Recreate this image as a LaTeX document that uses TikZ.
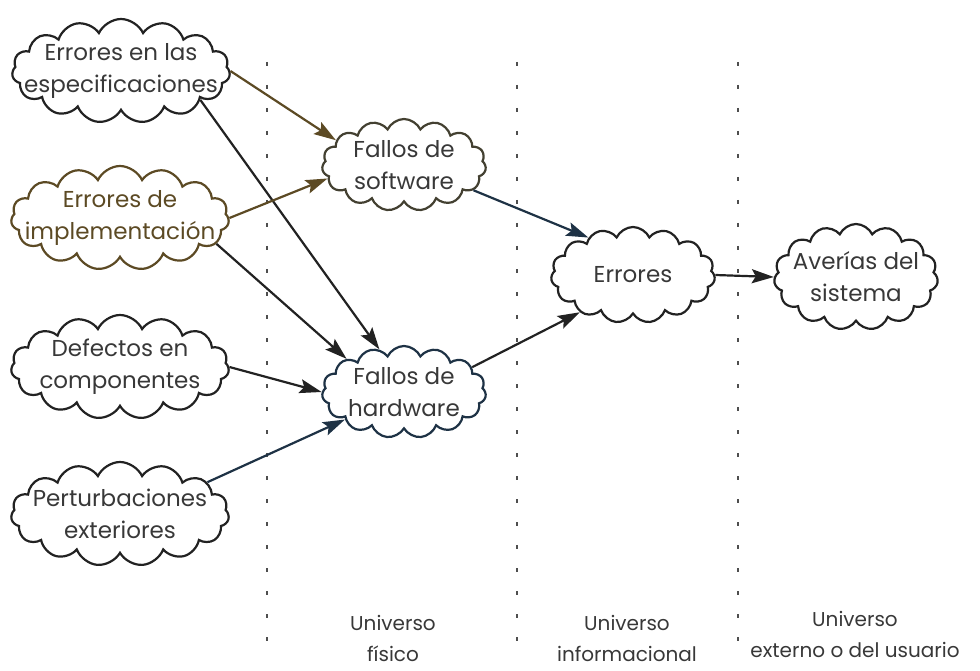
\documentclass[tikz,border=0pt]{standalone}
\usepackage{fontspec}
\setmainfont{Poppins}
\usetikzlibrary{shapes.symbols,arrows.meta}
\definecolor{ink}{HTML}{222222}
\definecolor{brownish}{HTML}{5C4A24}
\definecolor{navy}{HTML}{1E3245}
\tikzset{
  cloudbox/.style={cloud, cloud puffs=15, cloud puff arc=130, cloud ignores aspect,
    draw=ink, line width=2.2pt, minimum width=#1, minimum height=104pt, inner sep=0pt},
  cloudbox/.default=218pt,
  smallcloud/.style={cloudbox=164pt, minimum height=92pt},
  txt/.style={font=\fontsize{23}{32}\selectfont, text=ink!90, align=center},
  causeline/.style={line width=2.2pt, draw=ink, arrows={-Stealth[length=22pt, width=14pt, inset=4pt]}},
  divider/.style={line width=2.4pt, draw=ink!80, dash pattern=on 4pt off 19pt},
  universe/.style={font=\fontsize{20}{31}\selectfont, text=ink!90, align=center}
}
\begin{document}
\begin{tikzpicture}[x=1pt, y=-1pt]
  \useasboundingbox (0,0) rectangle (980,671);
  % dotted lines between the universes
  \draw[divider] (267,62) -- (267,645);
  \draw[divider] (517,62) -- (517,645);
  \draw[divider] (738,62) -- (738,645);
  % causes
  \node[cloudbox, label={[txt]center:Errores en las\\especificaciones}] (spec) at (121,71) {};
  \node[cloudbox, draw=brownish, label={[txt, text=brownish]center:Errores de\\implementación}] (impl) at (120,218) {};
  \node[cloudbox, label={[txt]center:Defectos en\\componentes}] (defe) at (120,367) {};
  \node[cloudbox, label={[txt]center:Perturbaciones\\exteriores}] (pert) at (120,514) {};
  % faults
  \node[smallcloud, draw=brownish!60!navy, label={[txt]center:Fallos de\\software}] (soft) at (404,165) {};
  \node[smallcloud, draw=navy, label={[txt]center:Fallos de\\hardware}] (hard) at (404,392) {};
  % errors and failures
  \node[smallcloud, minimum height=96pt, label={[txt]center:Errores}] (err) at (633,275) {};
  \node[smallcloud, minimum height=106pt, label={[txt]center:Averías del\\sistema}] (fail) at (856,277) {};
  % arrows
  \draw[causeline, draw=brownish] (spec.east) -- (soft.160);
  \draw[causeline] (spec.-20) -- (hard.120);
  \draw[causeline, draw=brownish] (impl.east) -- (soft.190);
  \draw[causeline] (impl.-15) -- (hard.150);
  \draw[causeline] (defe.east) -- (hard.west);
  \draw[causeline, draw=navy] (pert.20) -- (hard.205);
  \draw[causeline, draw=navy] (soft.-20) -- (err.140);
  \draw[causeline] (hard.20) -- (err.215);
  \draw[causeline] (err.east) -- (fail.west);
  % labels at the bottom
  \node[universe] (fis) at (393,638) {Universo\\físico};
  \node[universe] (inf) at (627,638) {Universo\\informacional};
  \node[universe] (ext) at (855,634) {Universo\\externo o del usuario};
\end{tikzpicture}
\end{document}
